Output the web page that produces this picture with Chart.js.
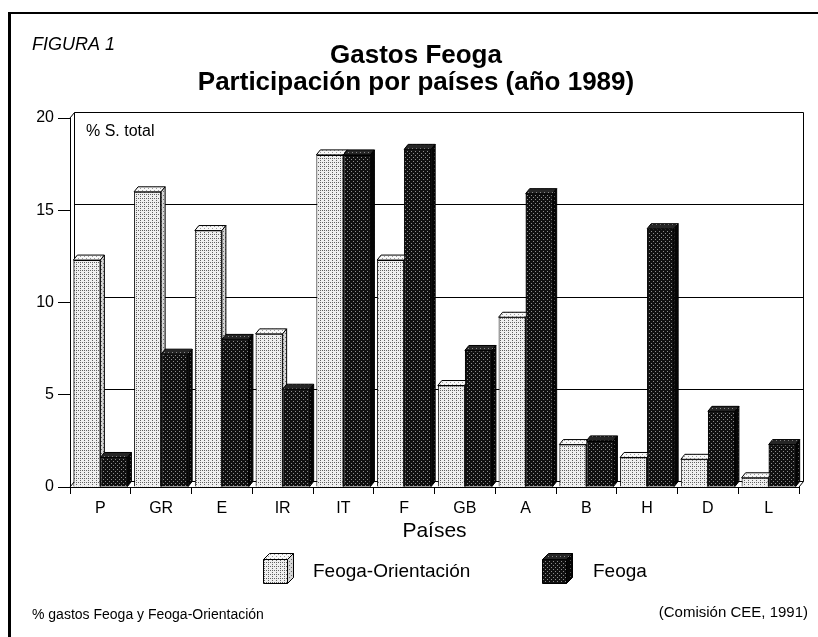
<!DOCTYPE html>
<html><head><meta charset="utf-8">
<script src="https://cdn.jsdelivr.net/npm/chart.js@4.4.1/dist/chart.umd.min.js"></script>
<style>html,body{margin:0;padding:0;background:#fff}#wrap{width:818px;height:637px;position:relative}canvas{display:block}</style>
</head><body><div id="wrap"><canvas id="c" width="818" height="637"></canvas></div>
<script>
const categories = ['P','GR','E','IR','IT','F','GB','A','B','H','D','L'];
const orientacion = [12.3,16.0,13.9,8.3,18.0,12.3,5.5,9.2,2.3,1.6,1.5,0.5];
const feoga = [1.6,7.2,8.0,5.3,18.0,18.3,7.4,15.9,2.5,14.0,4.1,2.3];
const seriesNames = ['Feoga-Orientación','Feoga'];
const yTicks = [0,5,10,15,20];
const titleLines = ['Gastos Feoga','Participación por países (año 1989)'];
const figLabel = 'FIGURA 1';
const unitLabel = '% S. total';
const xTitle = 'Países';
const footLeft = '% gastos Feoga y Feoga-Orientación';
const footRight = '(Comisión CEE, 1991)';

const FAM = '"Liberation Sans", Arial, Helvetica, sans-serif';
const canvas = document.getElementById('c');
const ctx0 = canvas.getContext('2d');

let titleFam = FAM, titleSize = 26;
(function(){
  const t = titleLines[1];
  ctx0.font = 'bold 26px "Liberation Sans Narrow", monospace';
  const a = ctx0.measureText(t).width;
  ctx0.font = 'bold 26px monospace';
  const b = ctx0.measureText(t).width;
  if (Math.abs(a-b) > 1) { titleFam = '"Liberation Sans Narrow", ' + FAM; }
  else {
    ctx0.font = 'bold 26px ' + FAM;
    const w = ctx0.measureText(t).width;
    titleSize = Math.min(26, 26*448/w);
  }
})();

function pat(bg, dot, pts, n){
  n = n || 4;
  const c = document.createElement('canvas'); c.width = n; c.height = n;
  const x = c.getContext('2d'); x.fillStyle = bg; x.fillRect(0,0,n,n);
  x.fillStyle = dot; pts.forEach(p => x.fillRect(p[0],p[1],1,1));
  return ctx0.createPattern(c,'repeat');
}
const lightFront = pat('#efefef','#626262',[[0,0],[2,2],[0,2]]);
const lightTop   = pat('#f8f8f8','#9a9a9a',[[0,0],[2,2]]);
const lightSide  = pat('#d6d6d6','#6a6a6a',[[1,1],[3,3]]);
const darkFront  = pat('#101010','#8c8c8c',[[1,1],[3,3]]);
const darkTop    = pat('#262626','#888',[[0,0]]);
const darkSide   = pat('#050505','#555',[[2,0]]);

const DX = 4, DY = -5, WX = 4, WY = -6;

function faces(ctx, bar, topFill, sideFill){
  const p = bar.getProps(['x','y','base','width'], true);
  const l = p.x - p.width/2, r = p.x + p.width/2, y = p.y, b = p.base;
  ctx.lineWidth = 1; ctx.strokeStyle = '#000';
  ctx.beginPath();
  ctx.moveTo(l,y); ctx.lineTo(l+DX,y+DY); ctx.lineTo(r+DX,y+DY); ctx.lineTo(r,y); ctx.closePath();
  ctx.fillStyle = topFill; ctx.fill(); ctx.stroke();
  ctx.beginPath();
  ctx.moveTo(r,y); ctx.lineTo(r+DX,y+DY); ctx.lineTo(r+DX,b+DY); ctx.lineTo(r,b); ctx.closePath();
  ctx.fillStyle = sideFill; ctx.fill(); ctx.stroke();
}

function cube(ctx, x, y, front, top, side){
  const w = 24, h = 24, d = 6;
  ctx.lineWidth = 1; ctx.strokeStyle = '#000';
  ctx.beginPath(); ctx.rect(x+0.5, y+d+0.5, w, h); ctx.fillStyle = front; ctx.fill(); ctx.stroke();
  ctx.beginPath(); ctx.moveTo(x+0.5,y+d+0.5); ctx.lineTo(x+d+0.5,y+0.5); ctx.lineTo(x+w+d+0.5,y+0.5); ctx.lineTo(x+w+0.5,y+d+0.5); ctx.closePath();
  ctx.fillStyle = top; ctx.fill(); ctx.stroke();
  ctx.beginPath(); ctx.moveTo(x+w+0.5,y+d+0.5); ctx.lineTo(x+w+d+0.5,y+0.5); ctx.lineTo(x+w+d+0.5,y+h+0.5); ctx.lineTo(x+w+0.5,y+h+d+0.5); ctx.closePath();
  ctx.fillStyle = side; ctx.fill(); ctx.stroke();
}

const deco = {
  id: 'deco',
  beforeDatasetsDraw(chart){
    const {ctx, chartArea:a, scales:{y}} = chart;
    ctx.save(); ctx.strokeStyle = '#000'; ctx.lineWidth = 1;
    const yTop = Math.round(y.getPixelForValue(yTicks[yTicks.length-1])) + WY + 0.5;
    const yBot = Math.round(y.getPixelForValue(yTicks[0])) + WY + 0.5;
    const l = Math.round(a.left) + WX + 0.5, r = Math.round(a.right) + WX + 0.5;
    ctx.beginPath();
    yTicks.slice(1,-1).forEach(v => {
      const py = Math.round(y.getPixelForValue(v)) + WY + 0.5;
      ctx.moveTo(l,py); ctx.lineTo(r,py);
    });
    ctx.moveTo(l,yTop); ctx.lineTo(r,yTop); ctx.lineTo(r,yBot); ctx.lineTo(l,yBot); ctx.lineTo(l,yTop);
    ctx.moveTo(a.left, y.getPixelForValue(yTicks[yTicks.length-1])); ctx.lineTo(l,yTop);
    ctx.moveTo(a.left, y.getPixelForValue(0)); ctx.lineTo(l,yBot);
    ctx.moveTo(a.right, y.getPixelForValue(0)); ctx.lineTo(r,yBot);
    ctx.stroke();
    ctx.restore();
  },
  afterDatasetsDraw(chart){
    const ctx = chart.ctx;
    ctx.save();
    chart.getDatasetMeta(0).data.forEach(b => faces(ctx, b, lightTop, lightSide));
    chart.getDatasetMeta(1).data.forEach(b => { b.draw(ctx); faces(ctx, b, darkTop, darkSide); });
    ctx.restore();
  },
  afterDraw(chart){
    const {ctx, chartArea:a} = chart;
    ctx.save();
    ctx.fillStyle = '#000';
    ctx.fillRect(8, 12, 3, 637-12);
    ctx.fillRect(8, 12, 818-8, 2);
    ctx.textBaseline = 'alphabetic';
    ctx.font = 'italic 18px ' + FAM; ctx.textAlign = 'left';
    ctx.fillText(figLabel, 32, 50);
    ctx.font = '16px ' + FAM;
    ctx.fillText(unitLabel, a.left + 16, a.top + 18);
    const fronts = [lightFront, darkFront], tops = [lightTop, darkTop], sides = [lightSide, darkSide];
    const boxX = [263, 542], txtX = [313, 593];
    ctx.font = '19px ' + FAM;
    chart.data.datasets.forEach((ds, i) => {
      cube(ctx, boxX[i], 553, fronts[i], tops[i], sides[i]);
      ctx.fillStyle = '#000';
      ctx.fillText(ds.label, txtX[i], 577);
    });
    ctx.font = '14px ' + FAM;
    ctx.fillText(footLeft, 32, 619);
    ctx.font = '15px ' + FAM; ctx.textAlign = 'right';
    ctx.fillText(footRight, 808, 617);
    ctx.restore();
  }
};

new Chart(canvas, {
  type: 'bar',
  data: {
    labels: categories,
    datasets: [
      { label: seriesNames[0], data: orientacion, backgroundColor: lightFront, borderColor: '#000', borderWidth: 1 },
      { label: seriesNames[1], data: feoga, backgroundColor: darkFront, borderColor: '#000', borderWidth: 1 }
    ]
  },
  options: {
    responsive: false, animation: false, devicePixelRatio: 1,
    categoryPercentage: 0.89, barPercentage: 1.0,
    layout: { padding: { left: 33, right: 19, top: 0, bottom: 90 } },
    plugins: {
      legend: { display: false },
      tooltip: { enabled: false },
      title: {
        display: true, text: titleLines, color: '#000',
        font: { family: titleFam, size: titleSize, weight: 'bold', lineHeight: 27/titleSize },
        padding: { top: 42, bottom: 22 }
      }
    },
    scales: {
      x: {
        ticks: { font: { family: FAM, size: 16 }, color: '#000', padding: 5, maxRotation: 0, autoSkip: false },
        grid: { offset: true, drawOnChartArea: false, drawTicks: true, tickLength: 7, color: '#000' },
        border: { display: true, color: '#000', width: 1 },
        title: { display: true, text: xTitle, color: '#000', font: { family: FAM, size: 21 }, padding: { top: 0, bottom: 3 } },
        afterFit: s => { s.height = 60; }
      },
      y: {
        min: 0, max: 20,
        afterBuildTicks: s => { s.ticks = yTicks.map(v => ({ value: v })); },
        ticks: { font: { family: FAM, size: 16 }, color: '#000', padding: 4 },
        grid: { drawOnChartArea: false, drawTicks: true, tickLength: 12, color: '#000' },
        border: { display: true, color: '#000', width: 1 },
        afterFit: s => { s.width = 37; }
      }
    }
  },
  plugins: [deco]
});
</script>
</body></html>
